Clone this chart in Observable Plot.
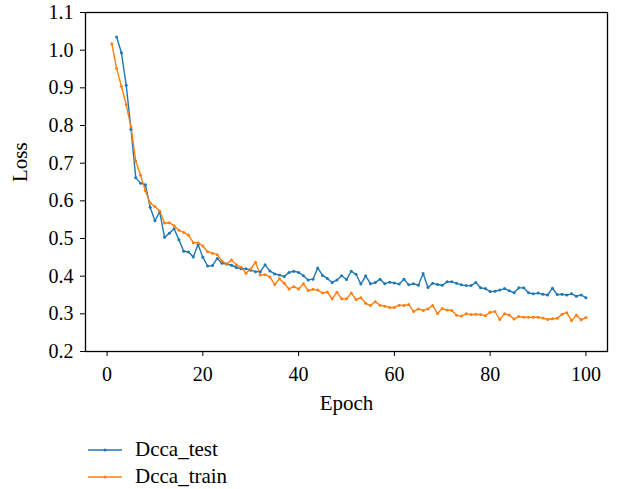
<!DOCTYPE html>
<html><head><meta charset="utf-8">
<script src="https://cdn.jsdelivr.net/npm/d3@7"></script>
<script src="https://cdn.jsdelivr.net/npm/@observablehq/plot@0.6"></script>
<style>
body{margin:0;background:#fff;font-family:"Liberation Serif",serif;color:#000;}
#legend{position:relative;width:617px;height:59px;}
.item{position:absolute;left:88px;display:flex;align-items:center;font-size:21px;line-height:21px;}
.item svg{margin-right:13px;}
</style></head><body>
<div id="chart"></div>
<div id="legend"></div>
<script>
const seriesNames = ["Dcca_test", "Dcca_train"];
const seriesColors = ["#1f77b4", "#ff7f0e"];
const testStartEpoch = 2;
const trainStartEpoch = 1;
const testLoss = [1.035,0.993,0.907,0.790,0.661,0.647,0.643,0.583,0.547,0.571,
0.503,0.514,0.526,0.497,0.466,0.464,0.451,0.484,0.450,0.427,
0.428,0.447,0.434,0.432,0.429,0.423,0.420,0.420,0.416,0.412,
0.412,0.430,0.414,0.406,0.403,0.399,0.410,0.413,0.410,0.401,
0.390,0.392,0.422,0.402,0.394,0.383,0.390,0.401,0.391,0.413,
0.405,0.379,0.401,0.380,0.383,0.392,0.380,0.384,0.382,0.379,
0.392,0.377,0.380,0.376,0.407,0.370,0.381,0.378,0.376,0.385,
0.385,0.381,0.377,0.375,0.375,0.383,0.369,0.367,0.359,0.360,
0.363,0.367,0.361,0.356,0.369,0.369,0.356,0.353,0.355,0.352,
0.350,0.368,0.351,0.352,0.350,0.353,0.347,0.350,0.343];
const trainLoss = [1.017,0.951,0.904,0.855,0.796,0.705,0.668,0.627,0.594,0.585,
0.573,0.541,0.542,0.534,0.522,0.516,0.509,0.489,0.489,0.480,
0.465,0.461,0.457,0.440,0.432,0.443,0.430,0.424,0.408,0.419,
0.437,0.403,0.404,0.398,0.378,0.393,0.381,0.366,0.372,0.366,
0.380,0.362,0.365,0.363,0.355,0.358,0.340,0.357,0.340,0.340,
0.355,0.338,0.343,0.328,0.322,0.332,0.323,0.320,0.317,0.317,
0.323,0.322,0.325,0.306,0.313,0.309,0.313,0.322,0.301,0.314,
0.310,0.309,0.296,0.294,0.300,0.298,0.299,0.298,0.295,0.304,
0.306,0.285,0.300,0.297,0.286,0.293,0.291,0.291,0.291,0.291,
0.289,0.285,0.287,0.288,0.299,0.303,0.282,0.296,0.284,0.290];
const xTicks = [0, 20, 40, 60, 80, 100];
const yTicks = [0.2, 0.3, 0.4, 0.5, 0.6, 0.7, 0.8, 0.9, 1.0, 1.1];
const xLabel = "Epoch";
const yLabel = "Loss";

const rows = [
  ...testLoss.map((v, i) => ({epoch: testStartEpoch + i, loss: v, series: seriesNames[0]})),
  ...trainLoss.map((v, i) => ({epoch: trainStartEpoch + i, loss: v, series: seriesNames[1]}))
];

const chart = Plot.plot({
  width: 617,
  height: 430,
  marginTop: 12,
  marginLeft: 85,
  marginRight: 10,
  marginBottom: 79,
  style: {fontFamily: "'Liberation Serif', serif", fontSize: "20px", color: "#000", background: "#fff"},
  x: {domain: [-4.5, 104.5]},
  y: {domain: [0.2, 1.1]},
  color: {domain: seriesNames, range: seriesColors},
  marks: [
    Plot.axisX({ticks: xTicks, tickSize: 5, tickPadding: 10, tickFormat: d => String(d), label: null, fontSize: 20}),
    Plot.axisY({ticks: yTicks, tickSize: 5, tickPadding: 7, tickFormat: d3.format(".1f"), label: null, fontSize: 20}),
    Plot.line(rows, {x: "epoch", y: "loss", z: "series", stroke: "series", strokeWidth: 1.4}),
    Plot.dot(rows, {x: "epoch", y: "loss", fill: "series", r: 1.5}),
    Plot.frame({stroke: "#000", strokeWidth: 1.3}),
    Plot.text([xLabel], {text: d => d, frameAnchor: "bottom", dy: 58, fontSize: 21}),
    Plot.text([yLabel], {text: d => d, frameAnchor: "left", rotate: -90, dx: -65, fontSize: 21})
  ]
});
document.getElementById("chart").appendChild(chart);

const legend = document.getElementById("legend");
seriesNames.forEach((name, i) => {
  const item = document.createElement("div");
  item.className = "item";
  item.style.top = (i === 0 ? 9 : 36) + "px";
  item.innerHTML = `<svg width="34" height="10"><line x1="0" y1="5" x2="34" y2="5" stroke="${seriesColors[i]}" stroke-width="1.4"/><circle cx="17" cy="5" r="1.5" fill="${seriesColors[i]}"/></svg><span>${name}</span>`;
  legend.appendChild(item);
});
</script>
</body></html>
